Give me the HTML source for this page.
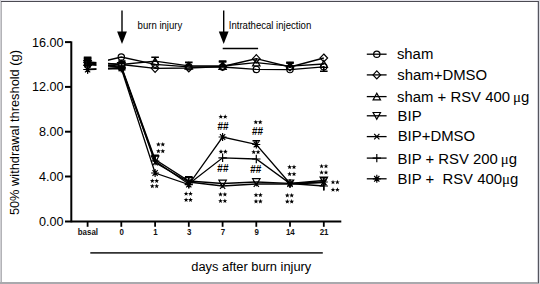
<!DOCTYPE html>
<html><head><meta charset="utf-8"><style>
html,body{margin:0;padding:0;background:#fff;}
svg{display:block;}
</style></head><body>
<svg width="540" height="284" viewBox="0 0 540 284">
<rect x="0" y="0" width="540" height="284" fill="#fff"/>
<rect x="0" y="0" width="540" height="1" fill="#e4e3ea"/>
<rect x="0" y="0" width="1" height="284" fill="#cfcfd3"/>
<rect x="1" y="1" width="1" height="283" fill="#b3b3b7"/>
<rect x="0" y="282" width="540" height="2" fill="#a9a9ad"/>
<rect x="1" y="1" width="538" height="1" fill="#4b4a52"/>
<rect x="537" y="2" width="1" height="280" fill="#d6d6dc"/>
<rect x="538" y="1" width="1" height="282" fill="#56565f"/>
<rect x="539" y="0" width="1" height="284" fill="#dcdce2"/>
<g stroke="#000" stroke-width="2" fill="none">
<path d="M71.3 41.3 V222.3"/>
<path d="M65 221.5 H341.3" stroke-width="1.9"/>
<path d="M65 42.1 H71"/>
<path d="M65 86.9 H71"/>
<path d="M65 131.7 H71"/>
<path d="M65 176.5 H71"/>
<path d="M87.6 221.5 V226.8" stroke-width="1.8"/>
<path d="M121.3 221.5 V226.8" stroke-width="1.8"/>
<path d="M155.1 221.5 V226.8" stroke-width="1.8"/>
<path d="M188.8 221.5 V226.8" stroke-width="1.8"/>
<path d="M222.6 221.5 V226.8" stroke-width="1.8"/>
<path d="M256.3 221.5 V226.8" stroke-width="1.8"/>
<path d="M290.0 221.5 V226.8" stroke-width="1.8"/>
<path d="M323.8 221.5 V226.8" stroke-width="1.8"/>
</g>
<g font-family='"Liberation Sans", sans-serif' font-size="12.6" fill="#000" text-anchor="end">
<text x="63.6" y="46.5">16.00</text>
<text x="63.6" y="91.3">12.00</text>
<text x="63.6" y="136.1">8.00</text>
<text x="63.6" y="180.9">4.00</text>
<text x="63.6" y="225.7">0.00</text>
</g>
<g font-family='"Liberation Sans", sans-serif' font-size="9" font-weight="bold" fill="#111" text-anchor="middle">
<text transform="translate(87.9 235.2) scale(0.88 1)">basal</text>
<text transform="translate(121.6 235.2) scale(0.88 1)">0</text>
<text transform="translate(155.4 235.2) scale(0.88 1)">1</text>
<text transform="translate(189.1 235.2) scale(0.88 1)">3</text>
<text transform="translate(222.9 235.2) scale(0.88 1)">7</text>
<text transform="translate(256.6 235.2) scale(0.88 1)">9</text>
<text transform="translate(290.3 235.2) scale(0.88 1)">14</text>
<text transform="translate(324.1 235.2) scale(0.88 1)">21</text>
</g>
<text transform="translate(19.4 132.6) rotate(-90)" font-family='"Liberation Sans", sans-serif' font-size="12.8" text-anchor="middle" fill="#000">50% withdrawal threshold (g)</text>
<path d="M90.3 252.9 H322.8" stroke="#333" stroke-width="1.8"/>
<text x="191.3" y="270.8" font-family='"Liberation Sans", sans-serif' font-size="12.85" fill="#000">days after burn injury</text>
<path d="M122 10.5 V32" stroke="#000" stroke-width="1.4"/>
<path d="M117.1 31.4 L126.9 31.4 L122 44 Z" fill="#000"/>
<path d="M223.7 10.5 V32" stroke="#000" stroke-width="1.4"/>
<path d="M218.79999999999998 31.4 L228.6 31.4 L223.7 44 Z" fill="#000"/>
<text transform="translate(137.6 28.6) scale(0.94 1)" font-family='"Liberation Sans", sans-serif' font-size="10.2" fill="#000">burn injury</text>
<text transform="translate(228.8 28.5) scale(0.94 1)" font-family='"Liberation Sans", sans-serif' font-size="10.2" fill="#000">Intrathecal injection</text>
<path d="M222.7 48.5 H258.1" stroke="#000" stroke-width="1.4"/>
<g stroke="#000" stroke-width="1.3" fill="none">
<polyline points="87.6,65.0 121.3,57.0 155.1,64.3 188.8,66.8 222.6,67.0 256.3,69.4 290.0,69.6 323.8,66.8"/>
<polyline points="87.6,62.5 121.3,64.5 155.1,68.3 188.8,68.0 222.6,66.5 256.3,58.7 290.0,67.0 323.8,58.0"/>
<polyline points="87.6,62.0 121.3,64.5 155.1,61.2 188.8,65.8 222.6,66.0 256.3,62.6 290.0,66.2 323.8,64.0"/>
<polyline points="87.6,64.0 121.3,66.0 155.1,159.5 188.8,181.0 222.6,183.5 256.3,182.0 290.0,183.3 323.8,180.5"/>
<polyline points="87.6,64.5 121.3,67.0 155.1,162.5 188.8,182.0 222.6,186.0 256.3,184.0 290.0,184.0 323.8,182.5"/>
<polyline points="87.6,69.5 121.3,67.5 155.1,161.0 188.8,184.0 222.6,157.8 256.3,159.0 290.0,183.5 323.8,186.0"/>
<polyline points="87.6,69.5 121.3,68.5 155.1,173.0 188.8,184.6 222.6,137.0 256.3,144.5 290.0,183.5 323.8,182.0"/>
</g>
<rect x="96.5" y="50" width="11.5" height="26" fill="#fff"/>
<g stroke="#000" stroke-width="1.6">
<path d="M83.8 57.4 H91.4 M87.6 57.4 V64"/>
<path d="M83.8 58.4 H91.4 M87.6 58.4 V64"/>
<path d="M83.8 59.3 H91.4 M87.6 59.3 V64"/>
<path d="M151.3 57.2 H158.9 M155.1 57.2 V61"/>
<path d="M185.0 62.4 H192.6 M188.8 62.4 V66"/>
<path d="M218.8 61.1 H226.4 M222.6 61.1 V66"/>
<path d="M218.8 62.0 H226.4 M222.6 62.0 V66"/>
<path d="M286.2 62.3 H293.8 M290.0 62.3 V68"/>
<path d="M286.2 63.1 H293.8 M290.0 63.1 V68"/>
<path d="M252.5 140.7 H260.1 M256.3 140.7 V145"/>
<path d="M320.0 177.8 H327.6 M323.8 177.8 V190.6"/>
<path d="M320.0 71.2 H327.6 M323.8 71.2 V66"/>
<path d="M185.0 176.9 H192.6 M188.8 176.9 V181"/>
<path d="M151.3 155.4 H158.9 M155.1 155.4 V159.5"/>
</g>
<circle cx="87.6" cy="65.0" r="3.15" fill="none" stroke="#000" stroke-width="1.2"/>
<circle cx="121.3" cy="57.0" r="3.15" fill="none" stroke="#000" stroke-width="1.2"/>
<circle cx="155.1" cy="64.3" r="3.15" fill="none" stroke="#000" stroke-width="1.2"/>
<circle cx="188.8" cy="66.8" r="3.15" fill="none" stroke="#000" stroke-width="1.2"/>
<circle cx="222.6" cy="67.0" r="3.15" fill="none" stroke="#000" stroke-width="1.2"/>
<circle cx="256.3" cy="69.4" r="3.15" fill="none" stroke="#000" stroke-width="1.2"/>
<circle cx="290.0" cy="69.6" r="3.15" fill="none" stroke="#000" stroke-width="1.2"/>
<circle cx="323.8" cy="66.8" r="3.15" fill="none" stroke="#000" stroke-width="1.2"/>
<path d="M87.6 58.5 L91.4 62.5 L87.6 66.5 L83.8 62.5 Z" fill="none" stroke="#000" stroke-width="1.2"/>
<path d="M121.3 60.5 L125.1 64.5 L121.3 68.5 L117.5 64.5 Z" fill="none" stroke="#000" stroke-width="1.2"/>
<path d="M155.1 64.3 L158.9 68.3 L155.1 72.3 L151.3 68.3 Z" fill="none" stroke="#000" stroke-width="1.2"/>
<path d="M188.8 64.0 L192.6 68.0 L188.8 72.0 L185.0 68.0 Z" fill="none" stroke="#000" stroke-width="1.2"/>
<path d="M222.6 62.5 L226.4 66.5 L222.6 70.5 L218.8 66.5 Z" fill="none" stroke="#000" stroke-width="1.2"/>
<path d="M256.3 54.7 L260.1 58.7 L256.3 62.7 L252.5 58.7 Z" fill="none" stroke="#000" stroke-width="1.2"/>
<path d="M290.0 63.0 L293.8 67.0 L290.0 71.0 L286.2 67.0 Z" fill="none" stroke="#000" stroke-width="1.2"/>
<path d="M323.8 54.0 L327.6 58.0 L323.8 62.0 L320.0 58.0 Z" fill="none" stroke="#000" stroke-width="1.2"/>
<path d="M87.6 58.6 L91.3 65.3 L83.9 65.3 Z" fill="none" stroke="#000" stroke-width="1.2"/>
<path d="M121.3 61.1 L125.0 67.8 L117.6 67.8 Z" fill="none" stroke="#000" stroke-width="1.2"/>
<path d="M155.1 57.8 L158.8 64.5 L151.4 64.5 Z" fill="none" stroke="#000" stroke-width="1.2"/>
<path d="M188.8 62.4 L192.5 69.1 L185.1 69.1 Z" fill="none" stroke="#000" stroke-width="1.2"/>
<path d="M222.6 62.6 L226.3 69.3 L218.9 69.3 Z" fill="none" stroke="#000" stroke-width="1.2"/>
<path d="M256.3 59.2 L260.0 65.9 L252.6 65.9 Z" fill="none" stroke="#000" stroke-width="1.2"/>
<path d="M290.0 62.8 L293.7 69.5 L286.3 69.5 Z" fill="none" stroke="#000" stroke-width="1.2"/>
<path d="M323.8 60.6 L327.5 67.3 L320.1 67.3 Z" fill="none" stroke="#000" stroke-width="1.2"/>
<path d="M87.6 67.4 L91.3 60.7 L83.9 60.7 Z" fill="none" stroke="#000" stroke-width="1.2"/>
<path d="M121.3 69.4 L125.0 62.7 L117.6 62.7 Z" fill="none" stroke="#000" stroke-width="1.2"/>
<path d="M155.1 162.9 L158.8 156.2 L151.4 156.2 Z" fill="none" stroke="#000" stroke-width="1.2"/>
<path d="M188.8 184.4 L192.5 177.7 L185.1 177.7 Z" fill="none" stroke="#000" stroke-width="1.2"/>
<path d="M222.6 186.9 L226.3 180.2 L218.9 180.2 Z" fill="none" stroke="#000" stroke-width="1.2"/>
<path d="M256.3 185.4 L260.0 178.7 L252.6 178.7 Z" fill="none" stroke="#000" stroke-width="1.2"/>
<path d="M290.0 186.7 L293.7 180.0 L286.3 180.0 Z" fill="none" stroke="#000" stroke-width="1.2"/>
<path d="M323.8 183.9 L327.5 177.2 L320.1 177.2 Z" fill="none" stroke="#000" stroke-width="1.2"/>
<path d="M85.0 61.7 L90.2 67.3 M90.2 61.7 L85.0 67.3" stroke="#000" stroke-width="1.2"/>
<path d="M118.7 64.2 L123.9 69.8 M123.9 64.2 L118.7 69.8" stroke="#000" stroke-width="1.2"/>
<path d="M152.5 159.7 L157.7 165.3 M157.7 159.7 L152.5 165.3" stroke="#000" stroke-width="1.2"/>
<path d="M186.2 179.2 L191.4 184.8 M191.4 179.2 L186.2 184.8" stroke="#000" stroke-width="1.2"/>
<path d="M220.0 183.2 L225.2 188.8 M225.2 183.2 L220.0 188.8" stroke="#000" stroke-width="1.2"/>
<path d="M253.7 181.2 L258.9 186.8 M258.9 181.2 L253.7 186.8" stroke="#000" stroke-width="1.2"/>
<path d="M287.4 181.2 L292.6 186.8 M292.6 181.2 L287.4 186.8" stroke="#000" stroke-width="1.2"/>
<path d="M321.2 179.7 L326.4 185.3 M326.4 179.7 L321.2 185.3" stroke="#000" stroke-width="1.2"/>
<path d="M83.4 69.5 H91.8 M87.6 65.3 V73.7" stroke="#000" stroke-width="1.2"/>
<path d="M117.1 67.5 H125.5 M121.3 63.3 V71.7" stroke="#000" stroke-width="1.2"/>
<path d="M150.9 161.0 H159.3 M155.1 156.8 V165.2" stroke="#000" stroke-width="1.2"/>
<path d="M184.6 184.0 H193.0 M188.8 179.8 V188.2" stroke="#000" stroke-width="1.2"/>
<path d="M218.4 157.8 H226.8 M222.6 153.6 V162.0" stroke="#000" stroke-width="1.2"/>
<path d="M252.1 159.0 H260.5 M256.3 154.8 V163.2" stroke="#000" stroke-width="1.2"/>
<path d="M285.8 183.5 H294.2 M290.0 179.3 V187.7" stroke="#000" stroke-width="1.2"/>
<path d="M319.6 186.0 H328.0 M323.8 181.8 V190.2" stroke="#000" stroke-width="1.2"/>
<path d="M83.6 69.5 H91.6 M87.6 65.5 V73.5 M85.0 66.7 L90.2 72.3 M90.2 66.7 L85.0 72.3" stroke="#000" stroke-width="1.2"/>
<path d="M117.3 68.5 H125.3 M121.3 64.5 V72.5 M118.7 65.7 L123.9 71.3 M123.9 65.7 L118.7 71.3" stroke="#000" stroke-width="1.2"/>
<path d="M151.1 173.0 H159.1 M155.1 169.0 V177.0 M152.5 170.2 L157.7 175.8 M157.7 170.2 L152.5 175.8" stroke="#000" stroke-width="1.2"/>
<path d="M184.8 184.6 H192.8 M188.8 180.6 V188.6 M186.2 181.8 L191.4 187.4 M191.4 181.8 L186.2 187.4" stroke="#000" stroke-width="1.2"/>
<path d="M218.6 137.0 H226.6 M222.6 133.0 V141.0 M220.0 134.2 L225.2 139.8 M225.2 134.2 L220.0 139.8" stroke="#000" stroke-width="1.2"/>
<path d="M252.3 144.5 H260.3 M256.3 140.5 V148.5 M253.7 141.7 L258.9 147.3 M258.9 141.7 L253.7 147.3" stroke="#000" stroke-width="1.2"/>
<path d="M286.0 183.5 H294.0 M290.0 179.5 V187.5 M287.4 180.7 L292.6 186.3 M292.6 180.7 L287.4 186.3" stroke="#000" stroke-width="1.2"/>
<path d="M319.8 182.0 H327.8 M323.8 178.0 V186.0 M321.2 179.2 L326.4 184.8 M326.4 179.2 L321.2 184.8" stroke="#000" stroke-width="1.2"/>
<rect x="118.3" y="60.2" width="7.2" height="10.4" fill="#000"/>
<rect x="119.6" y="64" width="1.3" height="1.2" fill="#fff" opacity="0.6"/><rect x="122.4" y="64" width="1.3" height="1.2" fill="#fff" opacity="0.6"/>
<polygon points="158.40,141.90 159.02,143.55 160.78,143.63 159.40,144.72 159.87,146.42 158.40,145.45 156.93,146.42 157.40,144.72 156.02,143.63 157.78,143.55" fill="#000"/>
<polygon points="162.80,141.90 163.42,143.55 165.18,143.63 163.80,144.72 164.27,146.42 162.80,145.45 161.33,146.42 161.80,144.72 160.42,143.63 162.18,143.55" fill="#000"/>
<polygon points="158.40,148.70 159.02,150.35 160.78,150.43 159.40,151.52 159.87,153.22 158.40,152.25 156.93,153.22 157.40,151.52 156.02,150.43 157.78,150.35" fill="#000"/>
<polygon points="162.80,148.70 163.42,150.35 165.18,150.43 163.80,151.52 164.27,153.22 162.80,152.25 161.33,153.22 161.80,151.52 160.42,150.43 162.18,150.35" fill="#000"/>
<polygon points="152.30,178.40 152.92,180.05 154.68,180.13 153.30,181.22 153.77,182.92 152.30,181.95 150.83,182.92 151.30,181.22 149.92,180.13 151.68,180.05" fill="#000"/>
<polygon points="156.70,178.40 157.32,180.05 159.08,180.13 157.70,181.22 158.17,182.92 156.70,181.95 155.23,182.92 155.70,181.22 154.32,180.13 156.08,180.05" fill="#000"/>
<polygon points="152.30,183.70 152.92,185.35 154.68,185.43 153.30,186.52 153.77,188.22 152.30,187.25 150.83,188.22 151.30,186.52 149.92,185.43 151.68,185.35" fill="#000"/>
<polygon points="156.70,183.70 157.32,185.35 159.08,185.43 157.70,186.52 158.17,188.22 156.70,187.25 155.23,188.22 155.70,186.52 154.32,185.43 156.08,185.35" fill="#000"/>
<polygon points="186.10,191.30 186.72,192.95 188.48,193.03 187.10,194.12 187.57,195.82 186.10,194.85 184.63,195.82 185.10,194.12 183.72,193.03 185.48,192.95" fill="#000"/>
<polygon points="190.50,191.30 191.12,192.95 192.88,193.03 191.50,194.12 191.97,195.82 190.50,194.85 189.03,195.82 189.50,194.12 188.12,193.03 189.88,192.95" fill="#000"/>
<polygon points="186.10,197.40 186.72,199.05 188.48,199.13 187.10,200.22 187.57,201.92 186.10,200.95 184.63,201.92 185.10,200.22 183.72,199.13 185.48,199.05" fill="#000"/>
<polygon points="190.50,197.40 191.12,199.05 192.88,199.13 191.50,200.22 191.97,201.92 190.50,200.95 189.03,201.92 189.50,200.22 188.12,199.13 189.88,199.05" fill="#000"/>
<polygon points="220.80,114.30 221.42,115.95 223.18,116.03 221.80,117.12 222.27,118.82 220.80,117.85 219.33,118.82 219.80,117.12 218.42,116.03 220.18,115.95" fill="#000"/>
<polygon points="225.20,114.30 225.82,115.95 227.58,116.03 226.20,117.12 226.67,118.82 225.20,117.85 223.73,118.82 224.20,117.12 222.82,116.03 224.58,115.95" fill="#000"/>
<text x="223.0" y="130.3" font-family='"Liberation Sans", sans-serif' font-size="10.5" font-weight="bold" text-anchor="middle" fill="#000" transform="translate(223.0 0) scale(0.95 1) translate(-223.0 0)">##</text>
<polygon points="221.00,149.20 221.62,150.85 223.38,150.93 222.00,152.02 222.47,153.72 221.00,152.75 219.53,153.72 220.00,152.02 218.62,150.93 220.38,150.85" fill="#000"/>
<polygon points="225.40,149.20 226.02,150.85 227.78,150.93 226.40,152.02 226.87,153.72 225.40,152.75 223.93,153.72 224.40,152.02 223.02,150.93 224.78,150.85" fill="#000"/>
<text x="222.9" y="171.9" font-family='"Liberation Sans", sans-serif' font-size="10.5" font-weight="bold" text-anchor="middle" fill="#000" transform="translate(222.9 0) scale(0.95 1) translate(-222.9 0)">##</text>
<polygon points="220.50,191.90 221.12,193.55 222.88,193.63 221.50,194.72 221.97,196.42 220.50,195.45 219.03,196.42 219.50,194.72 218.12,193.63 219.88,193.55" fill="#000"/>
<polygon points="224.90,191.90 225.52,193.55 227.28,193.63 225.90,194.72 226.37,196.42 224.90,195.45 223.43,196.42 223.90,194.72 222.52,193.63 224.28,193.55" fill="#000"/>
<polygon points="220.50,198.50 221.12,200.15 222.88,200.23 221.50,201.32 221.97,203.02 220.50,202.05 219.03,203.02 219.50,201.32 218.12,200.23 219.88,200.15" fill="#000"/>
<polygon points="224.90,198.50 225.52,200.15 227.28,200.23 225.90,201.32 226.37,203.02 224.90,202.05 223.43,203.02 223.90,201.32 222.52,200.23 224.28,200.15" fill="#000"/>
<polygon points="255.80,119.70 256.42,121.35 258.18,121.43 256.80,122.52 257.27,124.22 255.80,123.25 254.33,124.22 254.80,122.52 253.42,121.43 255.18,121.35" fill="#000"/>
<polygon points="260.20,119.70 260.82,121.35 262.58,121.43 261.20,122.52 261.67,124.22 260.20,123.25 258.73,124.22 259.20,122.52 257.82,121.43 259.58,121.35" fill="#000"/>
<text x="257.5" y="134.8" font-family='"Liberation Sans", sans-serif' font-size="10.5" font-weight="bold" text-anchor="middle" fill="#000" transform="translate(257.5 0) scale(0.95 1) translate(-257.5 0)">##</text>
<polygon points="253.70,149.60 254.32,151.25 256.08,151.33 254.70,152.42 255.17,154.12 253.70,153.15 252.23,154.12 252.70,152.42 251.32,151.33 253.08,151.25" fill="#000"/>
<polygon points="258.10,149.60 258.72,151.25 260.48,151.33 259.10,152.42 259.57,154.12 258.10,153.15 256.63,154.12 257.10,152.42 255.72,151.33 257.48,151.25" fill="#000"/>
<text x="255.7" y="172.7" font-family='"Liberation Sans", sans-serif' font-size="10.5" font-weight="bold" text-anchor="middle" fill="#000" transform="translate(255.7 0) scale(0.95 1) translate(-255.7 0)">##</text>
<polygon points="256.00,192.60 256.62,194.25 258.38,194.33 257.00,195.42 257.47,197.12 256.00,196.15 254.53,197.12 255.00,195.42 253.62,194.33 255.38,194.25" fill="#000"/>
<polygon points="260.40,192.60 261.02,194.25 262.78,194.33 261.40,195.42 261.87,197.12 260.40,196.15 258.93,197.12 259.40,195.42 258.02,194.33 259.78,194.25" fill="#000"/>
<polygon points="256.00,198.90 256.62,200.55 258.38,200.63 257.00,201.72 257.47,203.42 256.00,202.45 254.53,203.42 255.00,201.72 253.62,200.63 255.38,200.55" fill="#000"/>
<polygon points="260.40,198.90 261.02,200.55 262.78,200.63 261.40,201.72 261.87,203.42 260.40,202.45 258.93,203.42 259.40,201.72 258.02,200.63 259.78,200.55" fill="#000"/>
<polygon points="289.60,164.60 290.22,166.25 291.98,166.33 290.60,167.42 291.07,169.12 289.60,168.15 288.13,169.12 288.60,167.42 287.22,166.33 288.98,166.25" fill="#000"/>
<polygon points="294.00,164.60 294.62,166.25 296.38,166.33 295.00,167.42 295.47,169.12 294.00,168.15 292.53,169.12 293.00,167.42 291.62,166.33 293.38,166.25" fill="#000"/>
<polygon points="289.60,171.60 290.22,173.25 291.98,173.33 290.60,174.42 291.07,176.12 289.60,175.15 288.13,176.12 288.60,174.42 287.22,173.33 288.98,173.25" fill="#000"/>
<polygon points="294.00,171.60 294.62,173.25 296.38,173.33 295.00,174.42 295.47,176.12 294.00,175.15 292.53,176.12 293.00,174.42 291.62,173.33 293.38,173.25" fill="#000"/>
<polygon points="287.30,192.90 287.92,194.55 289.68,194.63 288.30,195.72 288.77,197.42 287.30,196.45 285.83,197.42 286.30,195.72 284.92,194.63 286.68,194.55" fill="#000"/>
<polygon points="291.70,192.90 292.32,194.55 294.08,194.63 292.70,195.72 293.17,197.42 291.70,196.45 290.23,197.42 290.70,195.72 289.32,194.63 291.08,194.55" fill="#000"/>
<polygon points="287.30,199.10 287.92,200.75 289.68,200.83 288.30,201.92 288.77,203.62 287.30,202.65 285.83,203.62 286.30,201.92 284.92,200.83 286.68,200.75" fill="#000"/>
<polygon points="291.70,199.10 292.32,200.75 294.08,200.83 292.70,201.92 293.17,203.62 291.70,202.65 290.23,203.62 290.70,201.92 289.32,200.83 291.08,200.75" fill="#000"/>
<polygon points="321.60,163.80 322.22,165.45 323.98,165.53 322.60,166.62 323.07,168.32 321.60,167.35 320.13,168.32 320.60,166.62 319.22,165.53 320.98,165.45" fill="#000"/>
<polygon points="326.00,163.80 326.62,165.45 328.38,165.53 327.00,166.62 327.47,168.32 326.00,167.35 324.53,168.32 325.00,166.62 323.62,165.53 325.38,165.45" fill="#000"/>
<polygon points="321.60,170.00 322.22,171.65 323.98,171.73 322.60,172.82 323.07,174.52 321.60,173.55 320.13,174.52 320.60,172.82 319.22,171.73 320.98,171.65" fill="#000"/>
<polygon points="326.00,170.00 326.62,171.65 328.38,171.73 327.00,172.82 327.47,174.52 326.00,173.55 324.53,174.52 325.00,172.82 323.62,171.73 325.38,171.65" fill="#000"/>
<polygon points="333.00,179.80 333.62,181.45 335.38,181.53 334.00,182.62 334.47,184.32 333.00,183.35 331.53,184.32 332.00,182.62 330.62,181.53 332.38,181.45" fill="#000"/>
<polygon points="337.40,179.80 338.02,181.45 339.78,181.53 338.40,182.62 338.87,184.32 337.40,183.35 335.93,184.32 336.40,182.62 335.02,181.53 336.78,181.45" fill="#000"/>
<polygon points="333.00,187.30 333.62,188.95 335.38,189.03 334.00,190.12 334.47,191.82 333.00,190.85 331.53,191.82 332.00,190.12 330.62,189.03 332.38,188.95" fill="#000"/>
<polygon points="337.40,187.30 338.02,188.95 339.78,189.03 338.40,190.12 338.87,191.82 337.40,190.85 335.93,191.82 336.40,190.12 335.02,189.03 336.78,188.95" fill="#000"/>
<path d="M366.8 54.2 H386.6" stroke="#000" stroke-width="1.3"/>
<circle cx="376.8" cy="54.2" r="3.15" fill="none" stroke="#000" stroke-width="1.2"/>
<text x="396.9" y="59.3" font-family='"Liberation Sans", sans-serif' font-size="14.9" fill="#000" style="white-space:pre">sham</text>
<path d="M366.8 74.9 H386.6" stroke="#000" stroke-width="1.3"/>
<path d="M376.8 70.9 L380.6 74.9 L376.8 78.9 L373.0 74.9 Z" fill="none" stroke="#000" stroke-width="1.2"/>
<text x="397.3" y="80.0" font-family='"Liberation Sans", sans-serif' font-size="14.9" fill="#000" style="white-space:pre">sham+DMSO</text>
<path d="M366.8 96.6 H386.6" stroke="#000" stroke-width="1.3"/>
<path d="M376.8 93.2 L380.5 99.9 L373.1 99.9 Z" fill="none" stroke="#000" stroke-width="1.2"/>
<text x="397.0" y="102.0" font-family='"Liberation Sans", sans-serif' font-size="14.9" fill="#000" style="white-space:pre">sham + RSV 400<tspan dx="-1.2"> </tspan><tspan font-family="Liberation Serif">μ</tspan>g</text>
<path d="M366.8 115.8 H386.6" stroke="#000" stroke-width="1.3"/>
<path d="M376.8 119.2 L380.5 112.5 L373.1 112.5 Z" fill="none" stroke="#000" stroke-width="1.2"/>
<text x="397.6" y="120.7" font-family='"Liberation Sans", sans-serif' font-size="14.9" fill="#000" style="white-space:pre">BIP</text>
<path d="M366.8 136.6 H386.6" stroke="#000" stroke-width="1.3"/>
<path d="M374.2 133.8 L379.4 139.4 M379.4 133.8 L374.2 139.4" stroke="#000" stroke-width="1.2"/>
<text x="397.7" y="141.0" font-family='"Liberation Sans", sans-serif' font-size="14.9" fill="#000" style="white-space:pre">BIP+DMSO</text>
<path d="M366.8 158.1 H386.6" stroke="#000" stroke-width="1.3"/>
<path d="M372.6 158.1 H381.0 M376.8 153.9 V162.3" stroke="#000" stroke-width="1.2"/>
<text x="397.6" y="164.0" font-family='"Liberation Sans", sans-serif' font-size="14.9" fill="#000" style="white-space:pre">BIP + RSV 200<tspan dx="-1.2"> </tspan><tspan font-family="Liberation Serif">μ</tspan>g</text>
<path d="M366.8 178.8 H386.6" stroke="#000" stroke-width="1.3"/>
<path d="M372.8 178.8 H380.8 M376.8 174.8 V182.8 M374.2 176.0 L379.4 181.6 M379.4 176.0 L374.2 181.6" stroke="#000" stroke-width="1.2"/>
<text x="397.6" y="184.2" font-family='"Liberation Sans", sans-serif' font-size="14.9" fill="#000" style="white-space:pre">BIP +  RSV 400<tspan font-family="Liberation Serif">μ</tspan>g</text>
</svg>
</body></html>
